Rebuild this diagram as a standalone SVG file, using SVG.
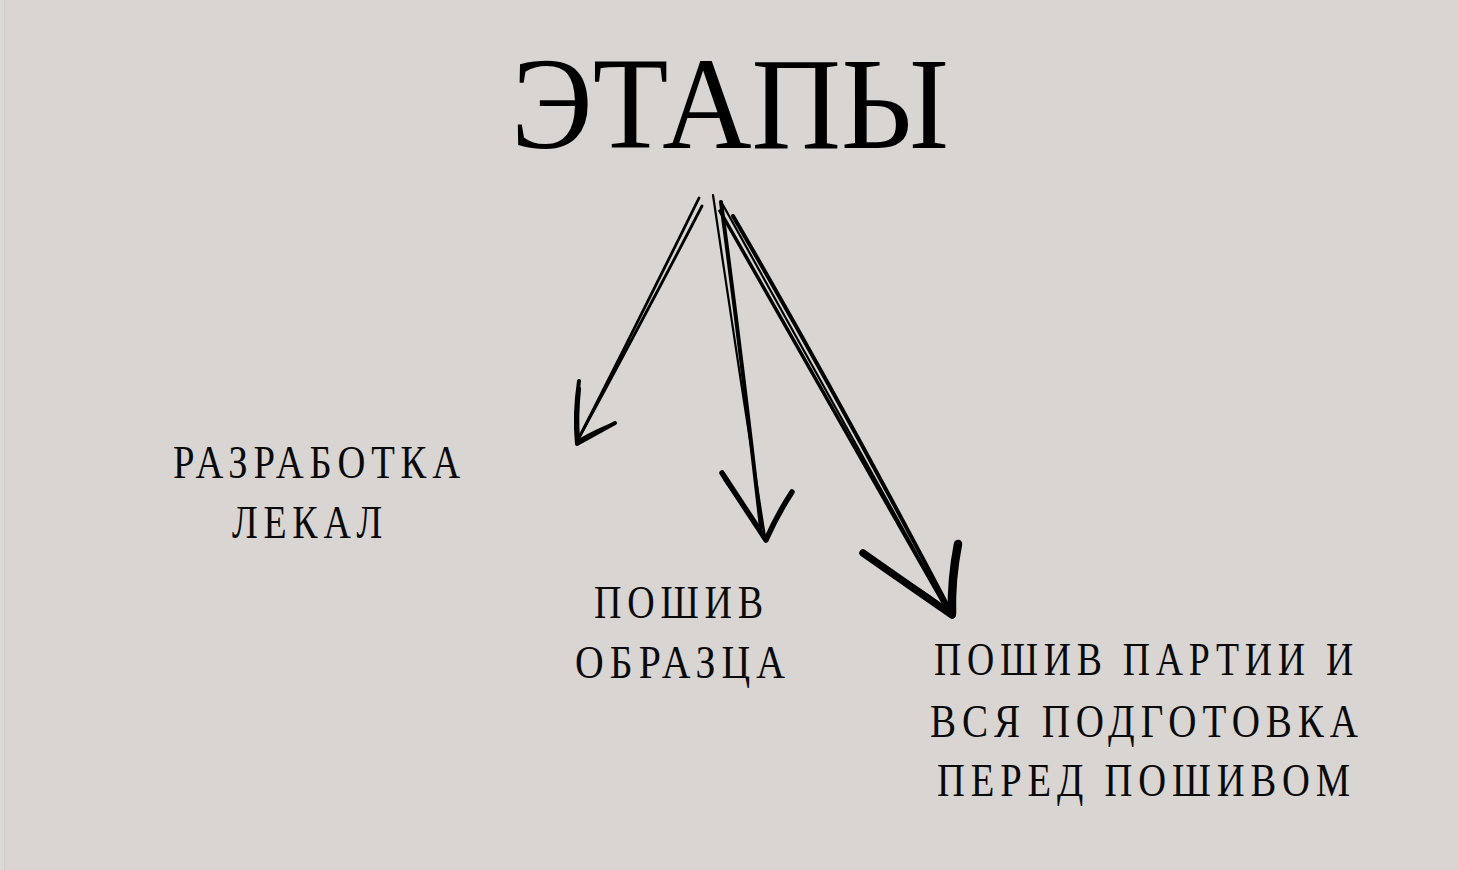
<svg xmlns="http://www.w3.org/2000/svg" width="1458" height="870" viewBox="0 0 1458 870">
<style>
.bg{fill:#d8d5d2}
.title{font-family:"Liberation Serif","Times New Roman",serif;font-size:131px;fill:#000}
.lbl{font-family:"Liberation Serif","Times New Roman",serif;font-size:46px;letter-spacing:7px;fill:#0a0a0a}
.s{fill:none;stroke:#000;stroke-linecap:round;stroke-linejoin:round}
</style>
<rect class="bg" x="0" y="0" width="1458" height="870"/>
<rect x="0" y="0" width="4" height="870" fill="#dcdad7"/>
<line x1="4.5" y1="0" x2="4.5" y2="870" stroke="#cfccc9" stroke-width="1"/>
<g id="title">
<text class="title" x="511" y="148" textLength="438" lengthAdjust="spacingAndGlyphs">ЭТАПЫ</text>
</g>
<g id="node-patterns">
<text class="lbl" x="173" y="478" textLength="293" lengthAdjust="spacingAndGlyphs">РАЗРАБОТКА</text>
<text class="lbl" x="232" y="538" textLength="156" lengthAdjust="spacingAndGlyphs">ЛЕКАЛ</text>
</g>
<g id="node-sample">
<text class="lbl" x="594" y="618" textLength="175" lengthAdjust="spacingAndGlyphs">ПОШИВ</text>
<text class="lbl" x="575" y="678" textLength="216" lengthAdjust="spacingAndGlyphs">ОБРАЗЦА</text>
</g>
<g id="node-batch">
<text class="lbl" x="934" y="675" textLength="425" lengthAdjust="spacingAndGlyphs">ПОШИВ ПАРТИИ И</text>
<text class="lbl" x="930" y="737" textLength="434" lengthAdjust="spacingAndGlyphs">ВСЯ ПОДГОТОВКА</text>
<text class="lbl" x="937" y="796" textLength="419" lengthAdjust="spacingAndGlyphs">ПЕРЕД ПОШИВОМ</text>
</g>
<g id="connectors">
<g id="arrow-1">
<path class="s" stroke-width="2.8" d="M699,198 Q640,318 579,438"/>
<path class="s" stroke-width="2.8" d="M702,206 Q642,322 582,432"/>
<path class="s" stroke-width="4" d="M579,381 Q574,414 577,444 L615,423"/>
<path class="s" stroke-width="2.2" d="M580,388 Q577,418 579,440 Q596,430 612,424"/>
</g>
<g id="arrow-2">
<path class="s" stroke-width="2.2" d="M713,195 Q738,365 765,537"/>
<path class="s" stroke-width="4" d="M721,202 Q742,360 761,528"/>
<path class="s" stroke-width="5.5" d="M722,473 Q745,508 766,540 Q777,515 792,492"/>
<path class="s" stroke-width="3" d="M725,480 Q748,512 762,533"/>
</g>
<g id="arrow-3">
<path class="s" stroke-width="3.5" d="M720,211 Q830,405 945,606"/>
<path class="s" stroke-width="2.2" d="M723,205 Q835,405 948,610"/>
<path class="s" stroke-width="4" d="M733,216 Q840,400 950,610"/>
<path class="s" stroke-width="7.5" d="M863,553 Q910,586 952,615"/>
<path class="s" stroke-width="3" d="M870,560 Q915,585 945,608"/>
<path class="s" stroke-width="8.5" d="M958,544 Q951,580 952,614"/>
</g>
</g>
</svg>
